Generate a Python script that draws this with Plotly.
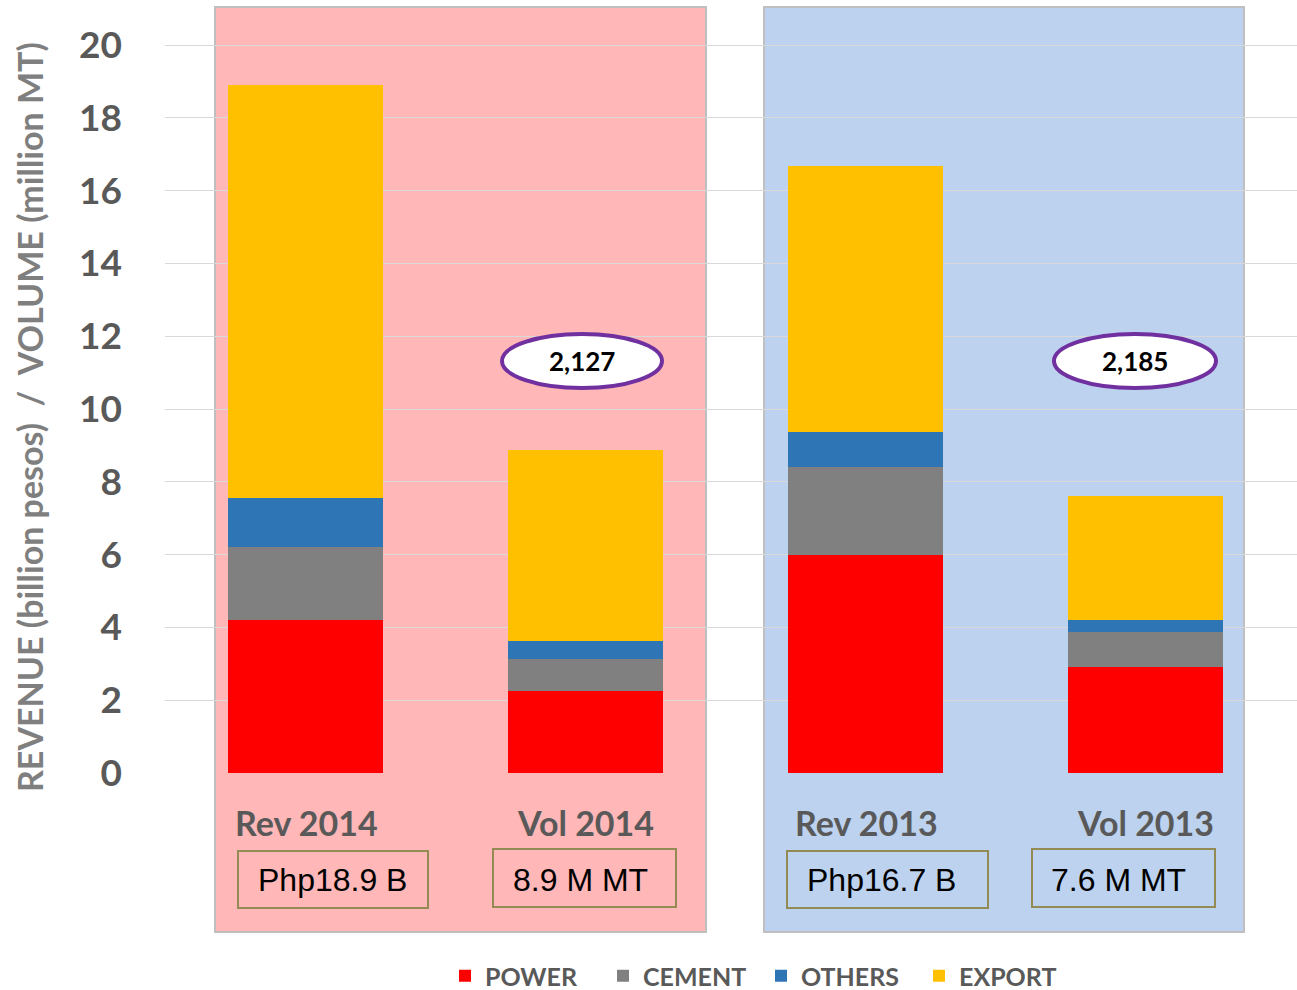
import plotly.graph_objects as go

categories = ["Rev 2014", "Vol 2014", "Rev 2013", "Vol 2013"]
power = [4.2, 2.25, 6.0, 2.9]
cement = [2.0, 0.88, 2.42, 0.97]
others = [1.35, 0.5, 0.95, 0.33]
export = [11.35, 5.25, 7.3, 3.4]
box_labels = ["Php18.9 B", "8.9 M MT", "Php16.7 B", "7.6 M MT"]
bubble_labels = ["2,127", "2,185"]

series = [("POWER", power, "#FF0000"), ("CEMENT", cement, "#808080"),
          ("OTHERS", others, "#2E75B6"), ("EXPORT", export, "#FFC000")]

W, H = 1297, 990
L, R, T, B = 165, 0, 6, 217
# pixel mapping (layout geometry only)
Y0PX, PXU = 773, 36.4
ytop = (Y0PX - T) / PXU
XC0, XSTEP = 305.5, 280.0
xlo = (L - XC0) / XSTEP
xhi = (W - R - XC0) / XSTEP


def px2x(p):
    return (p - XC0) / XSTEP


def px2y(p):
    return (Y0PX - p) / PXU


def px2py(p):
    return (H - B - p) / (H - B - T)


def px2px(p):
    return (p - L) / (W - L - R)


fig = go.Figure()
for name, vals, col in series:
    fig.add_trace(go.Bar(x=list(range(len(categories))), y=vals, name=name,
                         marker=dict(color=col, line=dict(width=0)),
                         width=0.557))

shapes = []
# background panels
for x0, x1, col in [(215, 706, "#FFB7B7"), (764, 1244, "#BCD2EE")]:
    shapes.append(dict(type="rect", xref="paper", yref="paper",
                       x0=px2px(x0), x1=px2px(x1), y0=px2py(932), y1=px2py(7),
                       fillcolor=col, line=dict(color="#BFBFBF", width=2),
                       layer="below"))
# value boxes
boxes = [(238, 428, 851, 908), (493, 676, 849, 907), (787, 988, 851, 908), (1032, 1215, 849, 907)]
for (x0, x1, y0, y1) in boxes:
    shapes.append(dict(type="rect", xref="paper", yref="paper",
                       x0=px2px(x0), x1=px2px(x1), y0=px2py(y1), y1=px2py(y0),
                       fillcolor="rgba(0,0,0,0)", line=dict(color="#948A54", width=2),
                       layer="above"))
# ellipses
ells = [(502, 662, 334, 388), (1054, 1216, 334, 388)]
for (x0, x1, y0, y1) in ells:
    shapes.append(dict(type="circle", xref="x", yref="y",
                       x0=px2x(x0), x1=px2x(x1), y0=px2y(y1), y1=px2y(y0),
                       fillcolor="white", line=dict(color="#7030A0", width=4),
                       layer="above"))

ann = []
lab_pos = [306, 585, 866, 1145]
for i, c in enumerate(categories):
    ann.append(dict(x=px2px(lab_pos[i]), y=px2py(822), xref="paper", yref="paper",
                    xanchor="center", yanchor="middle",
                    text=c, showarrow=False,
                    font=dict(family="Lato", size=34, color="#595959", weight="bold")))
box_cx = [332, 580, 881, 1118]
for i, t in enumerate(box_labels):
    ann.append(dict(x=px2px(box_cx[i]), y=px2py(880), xref="paper", yref="paper",
                    xanchor="center", yanchor="middle",
                    text=t, showarrow=False,
                    font=dict(family="Liberation Sans", size=32, color="#000000")))
for (x0, x1, y0, y1), t in zip(ells, bubble_labels):
    ann.append(dict(x=px2x((x0 + x1) / 2), y=px2y((y0 + y1) / 2), xref="x", yref="y",
                    xanchor="center", yanchor="middle",
                    text=t, showarrow=False,
                    font=dict(family="Lato", size=26, color="#000000", weight="bold")))
ann.append(dict(x=px2px(30), y=px2py(417), xref="paper", yref="paper",
                xanchor="center", yanchor="middle",
                text="REVENUE (billion pesos)  /  VOLUME (million MT)", textangle=-90,
                showarrow=False,
                font=dict(family="Lato", size=34, color="#7F7F7F", weight="bold")))

fig.update_layout(
    width=W, height=H,
    margin=dict(l=L, r=R, t=T, b=B, autoexpand=False),
    paper_bgcolor="white", plot_bgcolor="white",
    barmode="stack", bargap=0,
    shapes=shapes, annotations=ann,
    showlegend=True,
    legend=dict(orientation="h", x=px2px(445), xanchor="left", y=px2py(976), yanchor="middle",
                entrywidth=113, entrywidthmode="pixels", traceorder="normal",
                font=dict(family="Lato", size=25, color="#595959", weight="bold"),
                bgcolor="rgba(0,0,0,0)", tracegroupgap=0),
    xaxis=dict(range=[xlo, xhi], showticklabels=False, showgrid=False, zeroline=False,
               showline=False, ticks=""),
    yaxis=dict(range=[0, ytop], tickvals=list(range(0, 21, 2)), showgrid=True,
               gridcolor="#D9D9D9", gridwidth=1, zeroline=False, showline=False,
               ticks="", ticklabelstandoff=42,
               tickfont=dict(family="Lato", size=37, color="#595959", weight="bold")),
)

fig.write_html("out.html")
